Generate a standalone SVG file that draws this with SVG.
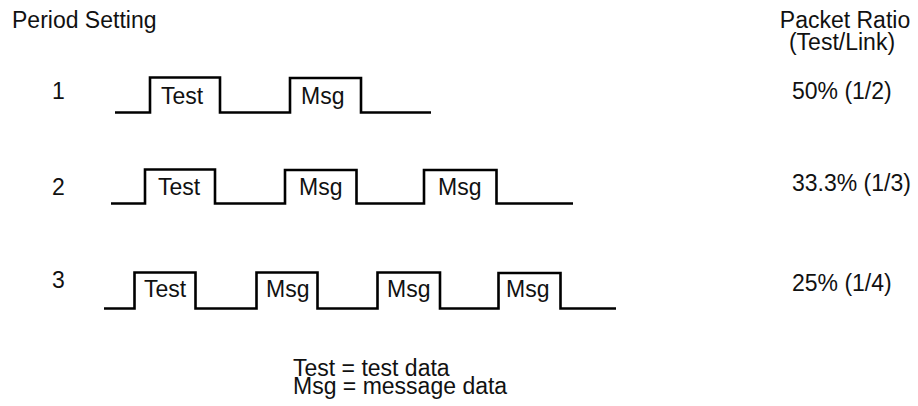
<svg xmlns="http://www.w3.org/2000/svg" width="918" height="406" viewBox="0 0 918 406">
  <style>
    text { font-family: "Liberation Sans", Arial, Helvetica, sans-serif; font-size: 23px; fill: #111; }
    .wave { fill: none; stroke: #000; stroke-width: 2.6; stroke-linejoin: miter; }
    .mid { text-anchor: middle; }
  </style>
  <rect width="918" height="406" fill="#fff"/>

  <!-- column headings -->
  <g id="headings">
    <text x="12" y="28">Period Setting</text>
    <text x="845" y="28" class="mid">Packet Ratio</text>
    <text x="842" y="50" class="mid">(Test/Link)</text>
  </g>

  <!-- setting 1: one test packet per link packet -->
  <g id="setting-1">
    <text x="52" y="99">1</text>
    <path class="wave" d="M115 112.5 H150 V77.5 H220 V112.5 H290 V78 H361 V112.5 H431"/>
    <text x="161" y="104">Test</text>
    <text x="301" y="104">Msg</text>
    <text x="792" y="99">50% (1/2)</text>
  </g>

  <!-- setting 2 -->
  <g id="setting-2">
    <text x="52" y="195">2</text>
    <path class="wave" d="M111 203.5 H145 V169.5 H215 V203.5 H285 V170 H356.5 V203.5 H424 V170 H496.5 V203.5 H573"/>
    <text x="158" y="195">Test</text>
    <text x="299" y="195">Msg</text>
    <text x="438" y="195">Msg</text>
    <text x="792" y="191">33.3% (1/3)</text>
  </g>

  <!-- setting 3 -->
  <g id="setting-3">
    <text x="52" y="288">3</text>
    <path class="wave" d="M104 308.5 H134.5 V272.5 H195.5 V308.5 H256.5 V272.5 H317.5 V308.5 H377.5 V272.5 H440 V308.5 H498.5 V273 H560.5 V308.5 H616"/>
    <text x="144" y="297">Test</text>
    <text x="266" y="297">Msg</text>
    <text x="387" y="297">Msg</text>
    <text x="506" y="297">Msg</text>
    <text x="792" y="291">25% (1/4)</text>
  </g>

  <!-- legend -->
  <g id="legend">
    <text x="293" y="376">Test = test data</text>
    <text x="293" y="394">Msg = message data</text>
  </g>
</svg>
